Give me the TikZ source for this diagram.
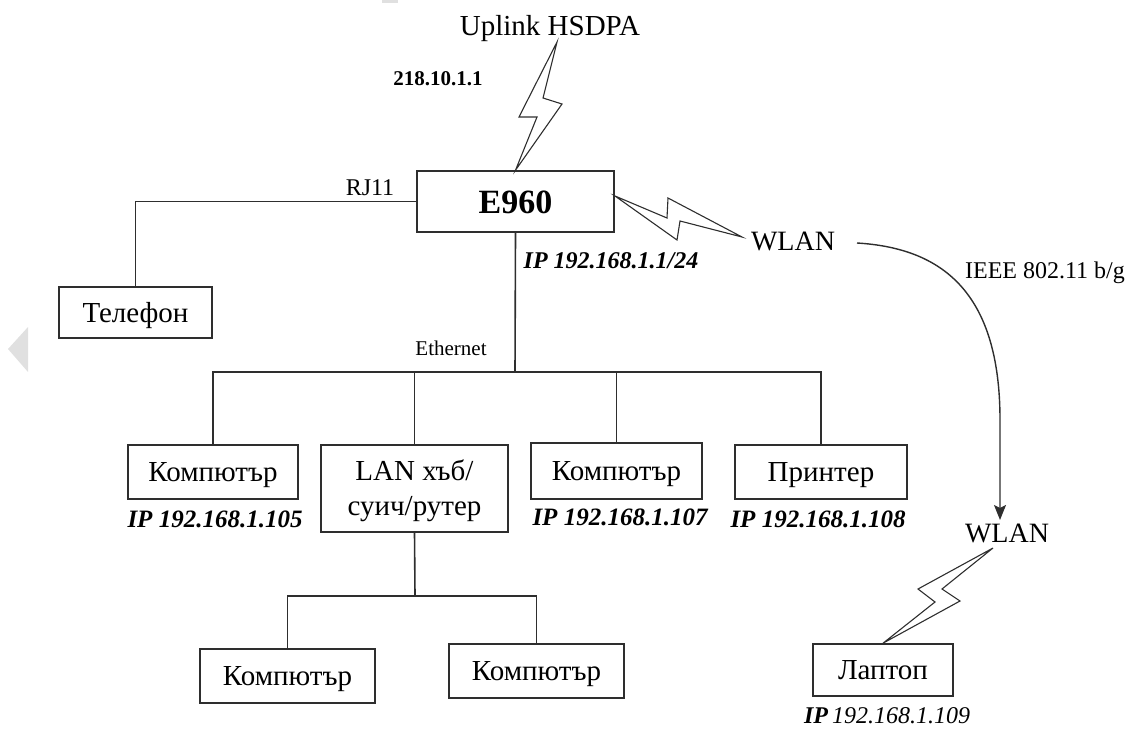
\documentclass[tikz,border=0pt]{standalone}
\usepackage{fontspec}
\setmainfont{Liberation Serif}
\usetikzlibrary{arrows.meta}
\definecolor{linegray}{HTML}{2E2E2E}
\tikzset{
  box/.style={draw=linegray, line width=1.6pt, inner sep=0pt,
    font=\fontsize{29}{35}\selectfont, text height=19.5pt, text depth=0pt},
  link/.style={draw=linegray, line width=1.6pt},
  bolt/.style={draw=linegray, line width=1.1pt},
  lbl/.style={anchor=base, font=\fontsize{#1}{#1}\selectfont},
  ip/.style={anchor=base, font=\bfseries\itshape\fontsize{25}{28}\selectfont}
}

\begin{document}
\begin{tikzpicture}[x=1pt,y=-1pt]
\useasboundingbox (0,0) rectangle (1132,728);
\fill[black!12] (28,327) -- (8,349) -- (28,372) -- cycle;
\fill[black!12] (382,0) rectangle (398,3);

\node[box, minimum width=197pt, minimum height=61pt, text height=23pt,
  font=\bfseries\fontsize{34}{36}\selectfont] (e960) at (515.5,201.5) {E960};
\node[box, minimum width=153pt, minimum height=51pt] (phone) at (135.5,312.5) {Телефон};
\node[box, minimum width=170pt, minimum height=54pt] (pc1) at (213,472) {Компютър};
\node[box, minimum width=187pt, minimum height=87pt, align=center, text height=54pt]
  (hub) at (414.5,488.5) {LAN хъб/\\суич/рутер};
\node[box, minimum width=171pt, minimum height=56pt] (pc2) at (616.5,471) {Компютър};
\node[box, minimum width=172pt, minimum height=54pt] (printer) at (821,472) {Принтер};
\node[box, minimum width=175pt, minimum height=54pt] (pc3) at (287.5,676) {Компютър};
\node[box, minimum width=175pt, minimum height=54pt] (pc4) at (536.5,671) {Компютър};
\node[box, minimum width=140pt, minimum height=52pt] (laptop) at (883,670) {Лаптоп};

\node[lbl=29] (uplink) at (550,35) {Uplink HSDPA};
\node[lbl=21, font=\bfseries\fontsize{21}{21}\selectfont] (wan) at (438,85) {218.10.1.1};
\node[lbl=24] (rj) at (370,195) {RJ11};
\node[lbl=28] (wlan1) at (793,250) {WLAN};
\node[lbl=21] (eth) at (451,355) {Ethernet};
\node[lbl=24] (ieee) at (1045,278) {IEEE 802.11 b/g};
\node[lbl=28] (wlan2) at (1007,542) {WLAN};
\node[ip, font=\bfseries\itshape\fontsize{24}{26}\selectfont] (ip1) at (611,268) {IP 192.168.1.1/24};
\node[ip] (ip105) at (215,527) {IP 192.168.1.105};
\node[ip] (ip107) at (620,525) {IP 192.168.1.107};
\node[ip] (ip108) at (818,527) {IP 192.168.1.108};
\node[anchor=base, font=\itshape\fontsize{24}{26}\selectfont] (ip109) at (887,723) {\textbf{IP}\,192.168.1.109};

\coordinate (bus) at (515,372);
\coordinate (sub) at (415,596);
\draw[link] (e960.west) -| (phone.north);
\draw[link] (e960.south) -- (bus);
\draw[link] (pc1.north) |- (bus) -| (printer.north);
\draw[link] (hub.north) -- (hub.north |- bus);
\draw[link] (pc2.north) -- (pc2.north |- bus);
\draw[link] (hub.south) -- (sub);
\draw[link] (pc3.north) |- (sub) -| (pc4.north);

\draw[bolt] (e960.north) -- (562,104) -- (543,98) -- (557,42) -- (519,117) -- (537,117) -- cycle;
\draw[bolt] (615,196) -- (667,218) -- (668,198) -- (742,237) -- (680,221) -- (677,240) -- cycle;
\draw[bolt] (laptop.north) -- (960,601) -- (942,589) -- (993,548) -- (918,589) -- (935,602) -- cycle;

\draw[link, line width=1.4pt, -{Stealth[length=15pt,width=12pt,inset=3pt]}] (857,243)
  .. controls (940,248) and (1000,290) .. (1000,420) -- (wlan2.north -| 1000,0);
\end{tikzpicture}
\end{document}
